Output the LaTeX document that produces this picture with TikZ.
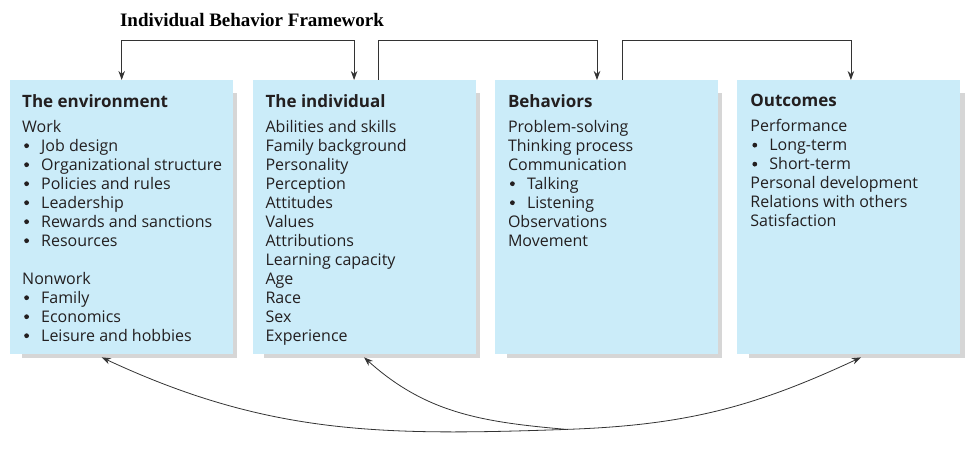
\documentclass[tikz,border=0pt]{standalone}
\usepackage{fontspec}
\setmainfont{Open Sans}
\newfontfamily\titlefont{Liberation Serif}
\usepackage{tikz}
\usetikzlibrary{positioning, arrows.meta, backgrounds}
\definecolor{boxblue}{HTML}{CBECF9}
\definecolor{shadegrey}{HTML}{D6D6D6}
\definecolor{inkdark}{HTML}{231F20}
\definecolor{linegrey}{HTML}{333333}
\tikzstyle{stage} = [rectangle, minimum width=223pt, minimum height=274pt, inner sep=0pt, fill=boxblue]
\tikzstyle{stagetext} = [anchor=north west, inner sep=0pt, align=left, text=inkdark, font=\fontsize{16}{19}\selectfont]
\tikzstyle{shade} = [fill=shadegrey]
\tikzstyle{arrow} = [line width=0.8pt, draw=linegrey, -{Stealth[length=9pt,width=6.5pt]}]
\newcommand{\itm}[1]{\makebox[19pt][l]{\hspace{2pt}\raisebox{3pt}{\tikz\fill[inkdark] (0,0) circle (2.4pt);}}#1}
\newcommand{\hd}[1]{{\fontsize{17}{19}\selectfont\bfseries #1}}

\begin{document}
\begin{tikzpicture}[x=1pt, y=1pt]
        \useasboundingbox (0,0) rectangle (972,-452);
        \node (title) at (252,-20.5) {\titlefont\bfseries\fontsize{19}{21}\selectfont Individual Behavior Framework};

        \node (env) [stage, anchor=north west] at (10,-80) {};
        \node (indiv) [stage, right=19pt of env] {};
        \node (behav) [stage, right=19pt of indiv] {};
        \node (outcome) [stage, right=19pt of behav] {};

        \begin{scope}[on background layer]
        \foreach \b in {env, indiv, behav, outcome}
            \fill [shade] ([xshift=12pt,yshift=-13pt]\b.north west) rectangle ([xshift=4pt,yshift=-4pt]\b.south east);
        \end{scope}

        \node (envtxt) [stagetext] at ([xshift=12pt,yshift=-14pt]env.north west) {\hd{The environment}\\[6pt]
            Work\\ \itm{Job design}\\ \itm{Organizational structure}\\ \itm{Policies and rules}\\
            \itm{Leadership}\\ \itm{Rewards and sanctions}\\ \itm{Resources}\\[19pt]
            Nonwork\\ \itm{Family}\\ \itm{Economics}\\ \itm{Leisure and hobbies}};
        \node (indivtxt) [stagetext] at ([xshift=13pt,yshift=-14pt]indiv.north west) {\hd{The individual}\\[6pt]
            Abilities and skills\\ Family background\\ Personality\\ Perception\\ Attitudes\\ Values\\
            Attributions\\ Learning capacity\\ Age\\ Race\\ Sex\\ Experience};
        \node (behavtxt) [stagetext] at ([xshift=13pt,yshift=-14pt]behav.north west) {\hd{Behaviors}\\[6pt]
            Problem-solving\\ Thinking process\\ Communication\\ \itm{Talking}\\ \itm{Listening}\\
            Observations\\ Movement};
        \node (outcometxt) [stagetext] at ([xshift=13pt,yshift=-14pt]outcome.north west) {\hd{Outcomes}\\[6pt]
            Performance\\ \itm{Long-term}\\ \itm{Short-term}\\ Personal development\\
            Relations with others\\ Satisfaction};

        \draw [arrow, {Stealth[length=9pt,width=6.5pt]}-{Stealth[length=9pt,width=6.5pt]}] (env.north) -- ++(0,40) -| ([xshift=-10pt]indiv.north);
        \draw [arrow] ([xshift=14.5pt]indiv.north) -- ++(0,40) -| ([xshift=-9.5pt]behav.north);
        \draw [arrow] ([xshift=15.5pt]behav.north) -- ++(0,40) -| ([xshift=2pt]outcome.north);

        \coordinate (fork) at ([xshift=-40pt,yshift=-75pt]behav.south);
        \draw [arrow] (fork) to[out=2, in=205] ([xshift=12pt,yshift=-3pt]outcome.south);
        \draw [arrow] (fork) to[out=182, in=-25] ([xshift=-20pt,yshift=-3pt]env.south);
        \draw [arrow] (fork) to[out=175, in=-42] ([yshift=-3pt]indiv.south);
\end{tikzpicture}
\end{document}
